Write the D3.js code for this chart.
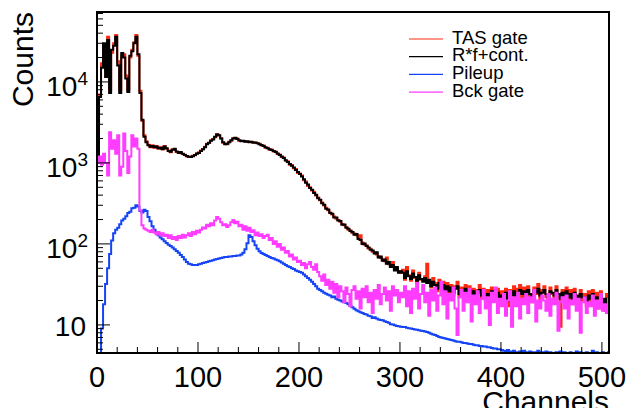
<!DOCTYPE html>
<html>
<head>
<meta charset="utf-8">
<script src="https://cdn.jsdelivr.net/npm/d3@7"></script>
<style>
  body { margin: 0; background: #fff; }
  svg { display: block; font-family: "Liberation Sans", Arial, Helvetica, sans-serif; }
</style>
</head>
<body>
<svg id="spectrum" width="627" height="408"></svg>
<script>
// channel width of one histogram bin
var binWidth = 2;

// TAS gate (red)
var tasGate = [
  1300, 7000, 17000, 28000, 14000, 36000, 8000, 23000, 30000, 38000,
  18000, 8000, 21000, 22000, 12000, 8000, 20000, 25000, 31000, 38000,
  21000, 7800, 3300, 2200, 1850, 1680, 1560, 1650, 1540, 1620,
  1500, 1560, 1470, 1620, 1500, 1420, 1350, 1470, 1480, 1360,
  1350, 1340, 1290, 1260, 1200, 1180, 1190, 1230, 1240, 1320,
  1350,
  1420, 1470, 1580, 1720, 1760, 1900, 1970, 2080, 2280, 2180,
  2020, 1780, 1720, 1700, 1820, 1880, 2020, 2030, 2000, 1880,
  1870, 1860, 1840, 1830, 1820, 1810, 1800, 1770, 1760, 1720,
  1640, 1640, 1540, 1540, 1450, 1460, 1380, 1380, 1290, 1270,
  1180, 1170, 1060, 1050, 950, 940, 860, 840, 750, 740,
  700, 610, 590, 520, 500, 455, 440, 395, 375, 345,
  325, 298, 280, 260, 245, 230, 218, 205, 198, 188,
  176, 170, 162, 150, 148, 136, 134, 128, 120, 128,
  104, 98, 96, 88, 87, 80, 79, 74, 70, 67,
  64, 61, 68, 56, 54, 60, 50, 48, 46, 44,
  48, 36, 52, 41, 35, 47, 38, 33, 44, 36,
  36, 40, 57, 34, 29, 38, 33, 26, 36, 28,
  34, 25, 33, 24, 31, 23, 30, 34, 22, 29,
  27, 31, 21, 30, 22, 28, 19, 27, 31, 21,
  28, 20, 27, 18, 29, 22, 20, 28, 18, 26,
  21, 28, 17, 27, 22, 30, 19, 28, 31, 22,
  29, 21, 30, 22, 19, 29, 24, 32, 20, 27,
  30, 22, 19, 29, 24, 21, 30, 22, 9.5, 27,
  21, 29, 20, 27, 18, 28, 22, 17, 27, 20,
  24, 17, 26, 19, 27, 18, 25, 16, 26, 19,
  15, 24, 14, 21
];

// R*f+cont. (black)
var rfCont = [
  1200, 6500, 15000, 30000, 11500, 33000, 7300, 25000, 28000, 36000,
  16000, 7300, 22800, 20000, 11000, 7500, 21000, 24000, 30000, 36000,
  22000, 7300, 3400, 2100, 1800, 1650, 1580, 1620, 1560, 1600,
  1520, 1540, 1480, 1600, 1520, 1400, 1370, 1450, 1500, 1380,
  1330, 1360, 1300, 1250, 1220, 1190, 1180, 1210, 1250, 1300,
  1330,
  1400, 1480, 1560, 1700, 1780, 1880, 1950, 2100, 2250, 2200,
  2000, 1800, 1700, 1720, 1800, 1900, 2000, 2050, 1980, 1900,
  1850, 1880, 1820, 1850, 1800, 1830, 1780, 1790, 1750, 1700,
  1660, 1620, 1560, 1520, 1470, 1440, 1400, 1360, 1310, 1250,
  1200, 1150, 1080, 1030, 970, 920, 880, 820, 770, 730,
  680, 630, 570, 540, 490, 465, 425, 405, 365, 352,
  318, 305, 272, 266, 240, 236, 212, 212, 194, 192,
  172, 174, 158, 154, 144, 140, 130, 133, 115, 112,
  100, 101, 94, 90, 85, 83, 76, 79, 68, 70,
  62, 64, 57, 60, 52, 55, 47, 52, 44, 46,
  44, 38, 46, 40, 37, 43, 39, 35, 41, 37,
  34, 38, 33, 36, 30, 34, 31, 28, 33, 29,
  31, 27, 30, 26, 29, 25, 28, 30, 24, 27,
  25, 28, 23, 27, 24, 26, 22, 25, 27, 23,
  25, 22, 24, 21, 26, 23, 22, 25, 21, 23,
  22, 25, 20, 24, 23, 26, 22, 25, 27, 24,
  26, 23, 27, 24, 22, 26, 25, 28, 23, 25,
  27, 24, 22, 26, 25, 23, 27, 24, 21, 25,
  23, 26, 22, 24, 21, 25, 23, 20, 24, 22,
  22, 19, 23, 21, 24, 20, 22, 19, 23, 21,
  18, 21, 17, 19
];

// Pileup (blue)
var pileup = [
  1, 3, 9, 18, 32, 50, 75, 110, 135, 150,
  158, 175, 195, 205, 220, 240, 250, 275, 280, 300,
  290, 255, 245, 265, 255, 215, 190, 165, 150, 138,
  128, 120, 114, 108, 103, 98, 94, 90, 86, 82,
  78, 73, 69, 64, 60, 57, 56, 55, 55, 55,
  56, 57, 58, 59, 60, 61, 62, 63, 64, 65,
  66, 67, 68, 69, 69, 70, 70, 71, 71, 72,
  72, 74, 78, 86, 102, 128, 122, 108, 96, 87,
  81, 77, 75, 73, 71, 69, 67, 66, 64, 63,
  61, 59, 57, 55, 53, 52, 50, 49, 47, 46,
  45,
  44, 42, 40, 38, 36, 34, 32, 30, 28, 27,
  26, 25, 24.2, 23.5, 23, 22, 22.4, 21, 20.5, 20,
  19.5, 19, 18.6, 18, 17.2, 16.5, 15.8, 15.2, 14.7, 14.3,
  14, 13.6, 13.4, 13, 12.8, 12.2, 12.4, 12, 11.7, 11.5,
  11.4, 11.1, 10.9, 10.6, 10.2, 10.1, 9.9, 9.7, 9.6, 9.5,
  9.4, 9.4, 9.2, 9.1, 9.0, 8.9, 8.8, 8.7, 8.6, 8.5,
  8.4, 8.3, 8.2, 8.0, 7.8, 7.6, 7.5, 7.3, 7.1, 7.0,
  6.9, 6.8, 6.7, 6.6, 6.5, 6.4, 6.3, 6.2, 6.2, 6.1,
  6.0, 6.0, 5.9, 5.8, 5.8, 5.7, 5.6, 5.6, 5.5, 5.5,
  5.4, 5.4, 5.3, 5.3, 5.2, 5.1, 5.1, 5.0, 5.0, 4.9,
  4.8, 4.7, 4.9, 4.6, 4.7, 4.8, 4.6, 4.5, 4.7, 4.6,
  4.8, 4.6, 4.5, 4.7, 4.6, 4.5, 4.6, 4.8, 4.5, 4.6,
  4.5, 4.7, 4.5, 4.6, 4.5, 4.5, 4.6, 4.5, 4.7, 4.5,
  4.6, 4.5, 4.5, 4.6, 4.5, 4.5, 4.7, 4.5, 4.6, 4.5,
  4.5, 4.6, 4.5, 4.5, 4.8, 4.5, 4.6, 4.5, 4.5, 4.6,
  4.5, 4.5, 4.6, 4.5
];

// Bck gate (magenta)
var bckGate = [
  1000, 1200, 950, 1300, 1000, 700, 2400, 1500, 1900, 1300,
  2200, 700, 900, 2300, 1400, 750, 1200, 2200, 1600, 2000,
  1500, 260, 170, 155, 150,
  145, 140, 150, 138, 132, 140, 128, 135, 125, 130,
  118, 128, 115, 122, 112, 125, 118, 130, 120, 128,
  135, 125, 140, 132, 145, 138,
  150, 160, 155, 172, 165, 180, 170, 195, 215, 205,
  185, 170, 175, 162, 170, 185, 198, 180, 188, 165,
  172, 150, 165, 145, 158, 140, 148, 128, 138, 125,
  132, 118, 125, 130, 112, 118, 100, 108, 92, 100,
  85, 90, 78, 82, 70, 74, 64, 68, 60, 62,
  55, 58, 50, 56, 60, 52, 48, 56, 45, 40,
  35, 42, 31, 36, 28, 34, 25, 32, 22, 30,
  26, 19, 29, 24, 17, 27, 30, 21, 26, 16,
  28, 22, 30, 19, 25, 14, 27, 21, 31, 18,
  24, 29, 20, 26, 15, 30, 23, 27, 19, 25,
  22, 30, 17, 26, 14, 28, 21, 33, 16, 24,
  31, 19, 25, 13, 27, 20, 29, 15, 23, 34,
  18, 26, 12, 24, 20, 29, 16, 7.5, 22, 27,
  15, 25, 19, 28, 11, 23, 18, 26, 14, 21,
  27, 16, 22, 10, 25, 19, 29, 14, 21, 17,
  24, 13, 20, 26, 9.5, 22, 17, 25, 12, 21,
  18, 24, 14, 22, 19, 27, 11, 20, 16, 23,
  20, 15, 24, 13, 21, 18, 25, 8.5, 19, 22,
  16, 23, 12, 20, 18, 24, 15, 21, 8, 19,
  22, 14, 19, 17, 23, 13, 20, 16, 24, 15,
  18, 14, 21, 15
];

var xTicks = [0, 100, 200, 300, 400, 500];
var yDecades = [1, 2, 3, 4];
var legendLabels = ['TAS gate', 'R*f+cont.', 'Pileup', 'Bck gate'];

(function () {
  'use strict';

  var svg = d3.select('svg#spectrum');

  var frame = { left: 97, right: 609, top: 12, bottom: 353 };

  var x = d3.scaleLinear()
    .domain([0, 507])
    .range([frame.left, frame.right]);

  var y = d3.scaleLog()
    .domain([4.5, 73000])
    .range([frame.bottom, frame.top])
    .clamp(true);

  var series = [
    { name: legendLabels[0], values: tasGate, color: '#ff2a12' },
    { name: legendLabels[1], values: rfCont, color: '#000000' },
    { name: legendLabels[2], values: pileup, color: '#1444f5' },
    { name: legendLabels[3], values: bckGate, color: '#ff3cff' }
  ];

  svg.append('defs').append('clipPath')
    .attr('id', 'frame-clip')
    .append('rect')
    .attr('x', frame.left)
    .attr('y', frame.top)
    .attr('width', frame.right - frame.left)
    .attr('height', frame.bottom - frame.top);

  // histogram outlines, ROOT "HIST" style steps
  var stepLine = d3.line()
    .x(function (d) { return x(d[0]); })
    .y(function (d) { return y(d[1]); })
    .curve(d3.curveStepAfter);

  var toSteps = function (values) {
    var pts = [[0, y.domain()[0]]];
    values.forEach(function (v, i) { pts.push([i * binWidth, v]); });
    pts.push([values.length * binWidth, values[values.length - 1]]);
    return pts;
  };

  var histWrap = svg.append('g')
    .attr('clip-path', 'url(#frame-clip)')
    .attr('class', 'hist-wrap');

  histWrap.selectAll('path')
    .data(series)
    .enter().append('path')
    .attr('d', function (d) { return stepLine(toSteps(d.values)); })
    .attr('fill', 'none')
    .attr('stroke', function (d) { return d.color; })
    .attr('stroke-width', 2)
    .attr('stroke-linejoin', 'miter');

  // ticks
  var tickWrap = svg.append('g')
    .attr('stroke', '#000')
    .attr('stroke-width', 1)
    .attr('class', 'tick-wrap');

  var xMinor = d3.range(0, 507, 20).filter(function (v) { return v % 100 !== 0; });

  tickWrap.selectAll('line.xmajor')
    .data(xTicks)
    .enter().append('line')
    .attr('class', 'xmajor')
    .attr('x1', function (d) { return x(d); })
    .attr('x2', function (d) { return x(d); })
    .attr('y1', frame.bottom)
    .attr('y2', frame.bottom - 11);

  tickWrap.selectAll('line.xminor')
    .data(xMinor)
    .enter().append('line')
    .attr('class', 'xminor')
    .attr('x1', function (d) { return x(d); })
    .attr('x2', function (d) { return x(d); })
    .attr('y1', frame.bottom)
    .attr('y2', frame.bottom - 6);

  var yMinor = [];
  [1, 10, 100, 1000, 10000].forEach(function (dec) {
    d3.range(2, 10).forEach(function (k) {
      var v = k * dec;
      if (v >= y.domain()[0] && v <= y.domain()[1]) yMinor.push(v);
    });
  });

  tickWrap.selectAll('line.ymajor')
    .data(yDecades)
    .enter().append('line')
    .attr('class', 'ymajor')
    .attr('x1', frame.left)
    .attr('x2', frame.left + 13)
    .attr('y1', function (d) { return y(Math.pow(10, d)); })
    .attr('y2', function (d) { return y(Math.pow(10, d)); });

  tickWrap.selectAll('line.yminor')
    .data(yMinor)
    .enter().append('line')
    .attr('class', 'yminor')
    .attr('x1', frame.left)
    .attr('x2', frame.left + 6)
    .attr('y1', function (d) { return y(d); })
    .attr('y2', function (d) { return y(d); });

  // frame
  svg.append('rect')
    .attr('x', frame.left)
    .attr('y', frame.top)
    .attr('width', frame.right - frame.left)
    .attr('height', frame.bottom - frame.top)
    .attr('fill', 'none')
    .attr('stroke', '#000')
    .attr('stroke-width', 2);

  // x labels
  svg.selectAll('text.xlabel')
    .data(xTicks)
    .enter().append('text')
    .attr('class', 'xlabel')
    .attr('x', function (d) { return x(d); })
    .attr('y', 387)
    .style('text-anchor', 'middle')
    .style('font-size', '29px')
    .text(function (d) { return d; });

  // y labels (10, 10^2, ...)
  var yLabels = svg.selectAll('text.ylabel')
    .data(yDecades)
    .enter().append('text')
    .attr('class', 'ylabel')
    .attr('x', function (d) { return d === 1 ? 86 : 88; })
    .attr('y', function (d) { return y(Math.pow(10, d)) + (d === 1 ? 11 : 14); })
    .style('text-anchor', 'end')
    .style('font-size', '28px');

  yLabels.append('tspan').text('10');
  yLabels.filter(function (d) { return d > 1; })
    .append('tspan')
    .attr('dy', -11)
    .style('font-size', '19px')
    .text(function (d) { return d; });

  // axis titles
  svg.append('text')
    .attr('transform', `translate(33, ${frame.top}) rotate(-90)`)
    .style('text-anchor', 'end')
    .style('font-size', '30px')
    .text('Counts');

  svg.append('text')
    .attr('x', frame.right)
    .attr('y', 412)
    .style('text-anchor', 'end')
    .style('font-size', '30px')
    .text('Channels');

  // legend
  var legend = svg.append('g')
    .attr('class', 'legend')
    .attr('transform', 'translate(409, 39)');

  var rows = legend.selectAll('g')
    .data(series)
    .enter().append('g')
    .attr('transform', function (d, i) { return `translate(0, ${i * 17.7})`; });

  rows.append('line')
    .attr('x1', 0)
    .attr('x2', 34)
    .attr('y1', 0)
    .attr('y2', 0)
    .attr('stroke', function (d) { return d.color; })
    .attr('stroke-width', 1.2);

  rows.append('text')
    .attr('x', 43)
    .attr('y', 4.5)
    .style('font-size', '18.5px')
    .text(function (d) { return d.name; });
}());
</script>
</body>
</html>
